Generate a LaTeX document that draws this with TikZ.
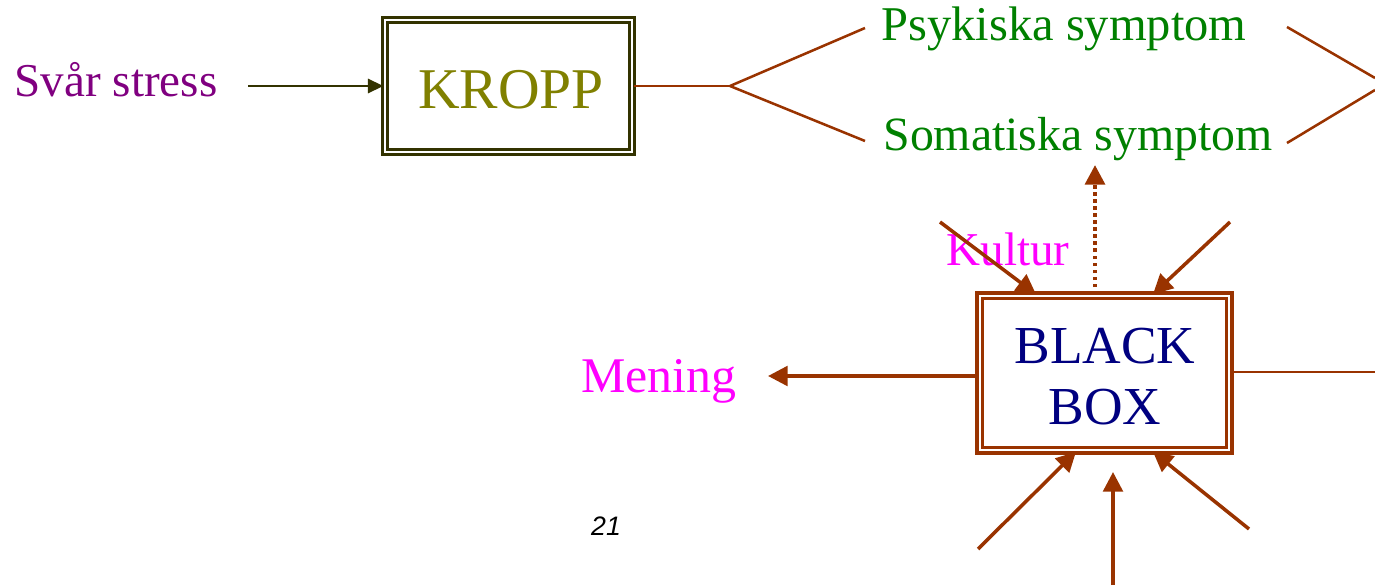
\documentclass[tikz,border=0pt]{standalone}
\usepackage{fontspec}
\setmainfont{Liberation Serif}
\newfontfamily\numfont{Liberation Sans}
\usetikzlibrary{arrows.meta,calc}
\definecolor{cpurple}{HTML}{800080}
\definecolor{colive}{HTML}{808000}
\definecolor{cdark}{HTML}{333300}
\definecolor{cgreen}{HTML}{008000}
\definecolor{cbrown}{HTML}{993300}
\definecolor{cmag}{HTML}{FF00FF}
\definecolor{cnavy}{HTML}{000080}
\tikzset{
  lbl/.style={anchor=base, inner sep=0pt, font=\fontsize{#1}{#1}\selectfont},
  dbox/.style={draw=#1, line width=4.5pt, double=white, double distance=3.5pt, inner sep=0pt},
  bline/.style={draw=cbrown, line width=3.6pt},
  barrow/.style={draw=cbrown, line width=5pt, -{Triangle[length=28pt,width=28pt]}},
}
\begin{document}
\begin{tikzpicture}[x=0.05cm,y=-0.05cm]
\useasboundingbox (0,0) rectangle (1375,585);
% texts
\node[lbl=67, text=cpurple] (stress) at (116,96) {Svår stress};
\node[dbox=cdark, minimum width=12.35cm, minimum height=6.6cm] (kropp) at (508.5,86) {};
\node[lbl=82, text=colive] (kt) at (511,108) {KROPP};
\node[lbl=69, text=cgreen] (psy) at (1064,40) {Psykiska symptom};
\node[lbl=68, text=cgreen] (som) at (1078,150) {Somatiska symptom};
\node[lbl=67, text=cmag] (kul) at (1008,265) {Kultur};
\node[lbl=71, text=cmag] (men) at (659,392) {Mening};
\node[dbox=cbrown, minimum width=12.475cm, minimum height=7.725cm] (bb) at (1104.5,373) {};
\node[lbl=76, text=cnavy] (bl) at (1105,363) {BLACK};
\node[lbl=76, text=cnavy] (bo) at (1105,424) {BOX};
\node[lbl=38, font=\numfont\itshape\fontsize{38}{38}\selectfont] (num) at (606,535) {21};
% coordinates
\coordinate (s0) at (248,86);
\coordinate (fork) at (730,86);
\coordinate (p1) at (865,28);
\coordinate (p2) at (865,141);
\coordinate (r1) at (1287,27);
\coordinate (r2) at (1375,78);
\coordinate (r3) at (1287,143);
\coordinate (r4) at (1375,90);
\coordinate (dtop) at (1095,165);
\coordinate (k1) at (940,222);
\coordinate (k2) at (1230,222);
\coordinate (m1) at (768,376);
\coordinate (re) at (1375,372);
\coordinate (b1) at (978,549);
\coordinate (b2) at (1113,585);
\coordinate (b3) at (1249,529);
% connectors
\draw[draw=cdark, line width=3.6pt, -{Triangle[length=22pt,width=20pt]}] (s0) -- (kropp.west);
\draw[bline] (kropp.east) -- (fork);
\draw[bline] (fork) -- (p1);
\draw[bline] (fork) -- (p2);
\draw[bline] (r1) -- (r2);
\draw[bline] (r3) -- (r4);
\draw[barrow, line width=6pt, dash pattern=on 5pt off 5pt, line cap=butt] (1095,0 |- bb.north) -- (dtop);
\draw[barrow] (k1) -- (1036,0 |- bb.north);
\draw[barrow] (k2) -- (1153,0 |- bb.north);
\draw[barrow] (bb.west |- 0,376) -- (m1);
\draw[bline] (bb.east |- 0,372) -- (re);
\draw[barrow] (b1) -- (1076,0 |- bb.south);
\draw[barrow] (b2) -- (1113,472);
\draw[barrow] (b3) -- (1153,0 |- bb.south);
\end{tikzpicture}
\end{document}
